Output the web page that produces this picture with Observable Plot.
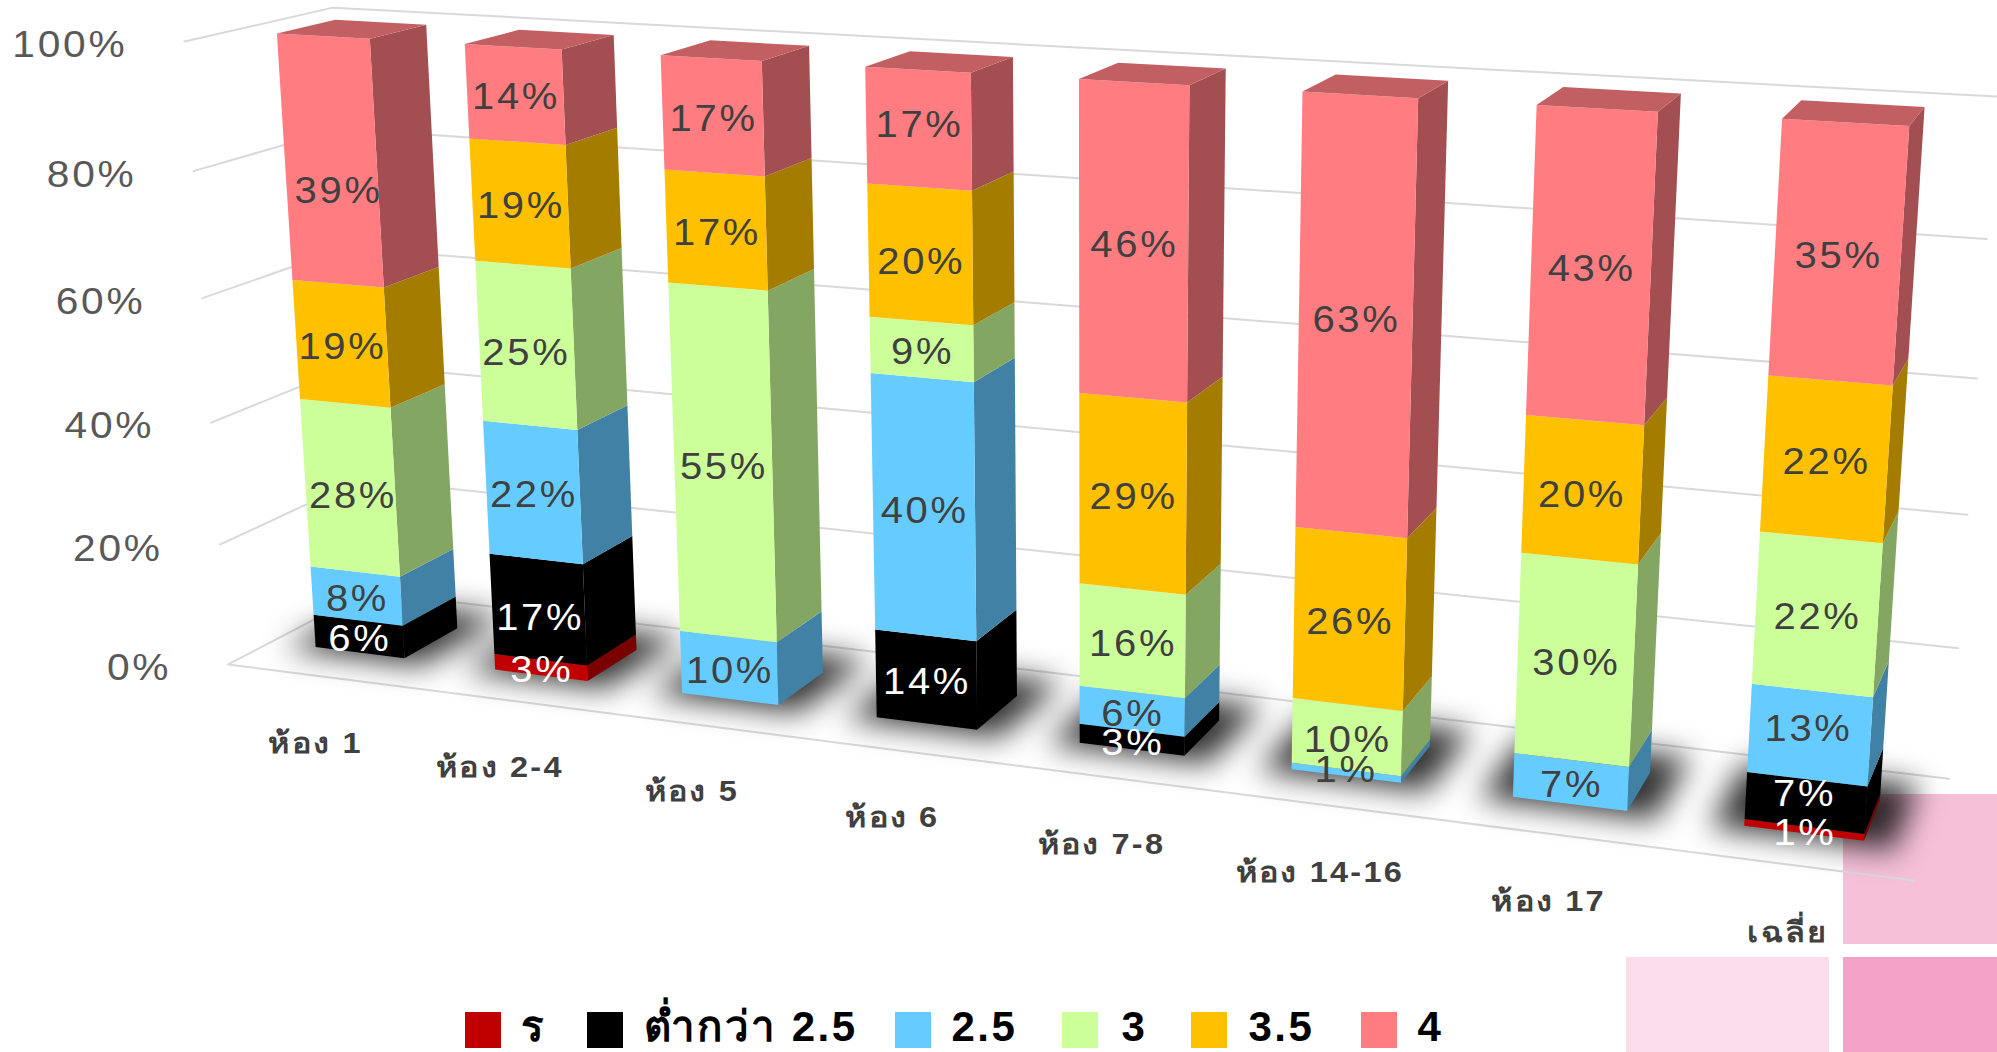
<!DOCTYPE html>
<html><head><meta charset="utf-8">
<script src="https://cdn.jsdelivr.net/npm/d3@7"></script>
<script src="https://cdn.jsdelivr.net/npm/@observablehq/plot@0.6"></script>
<style>
html,body{margin:0;padding:0;background:#fff}
svg{display:block}
.lbl text,.tick text{letter-spacing:2.5px}
.room text{letter-spacing:2px}
.leg text{letter-spacing:2.5px}
</style></head><body><div id="c"></div>
<script>
// ---- data ----
const rooms = ["ห้อง 1","ห้อง 2-4","ห้อง 5","ห้อง 6","ห้อง 7-8","ห้อง 14-16","ห้อง 17","เฉลี่ย"];
const seriesNames = ["ร","ต่ำกว่า 2.5","2.5","3","3.5","4"];
const gradeR     = [0,   2.6, 0,    0,    0, 0, 0,     1];
const gradeBelow = [5.5,16.6, 0,   14.1,  3, 0, 0,     7];
const grade25    = [8.2,21.6,10.2, 40.1,  6, 1, 6.65, 13];
const grade3     = [27.9,25.4,55.3, 8.6, 16,10,29.9,  22];
const grade35    = [19.4,19,  17.3,20,   29,26,20,    22];
const grade4     = [39, 14.4,17.2, 17.2, 46,63,43.45, 35];
const allSeries = [gradeR,gradeBelow,grade25,grade3,grade35,grade4];
const ticks = [0,20,40,60,80,100];
// ---- styling ----
const front = ["#C00000","#000000","#66CCFF","#CCFF99","#FFC000","#FF7C80"];
const side  = ["#7B0000","#000000","#4181A6","#83A663","#A47C00","#A34F52"];
const top_  = ["#900000","#111111","#4F9DC4","#9DC476","#C49400","#C25F62"];
const labelInk = ["#fff","#fff","#404040","#404040","#404040","#404040"];
// hand placement of data labels, "room-series": [dx, dy] in pixels
const labelNudge = {"0-5":[8,30],"0-3":[3,8],"1-3":[0,8],"1-1":[2,9],"3-5":[1,-4],"3-4":[1,8],"6-4":[0,5],
  "7-2":[-1,-6],"7-1":[-1,-9],"5-2":[0,-3]};
// ---- camera calibration: [category, share, depth, px, py] ----
const calib = [
[0,0,0,229,665],[0,.2,0,218,546],[0,.4,0,210,420],[0,.6,0,202,298],[0,.8,0,192,171],[0,1,0,184,42],
[0,0,1,366,592],[0,.8,1,340,129],[0,1,1,333,7],[8,0,0,1913,881],
[8,0,1,1949,779],[8,.2,1,1958,648],[8,.4,1,1965,516],[8,.6,1,1974,378],[8,.8,1,1987,239],[8,1,1,1999,93],
[.25,1,.3,277,33],[.75,1,.3,369,38],[.75,1,.7,426,24],[.25,1,.7,335,19],[.25,0,.3,315,647],[.75,0,.3,404,658],[.75,0,.7,457,628],
[1.25,1,.3,464,44],[1.75,1,.3,561,49],[1.75,1,.7,613,34],[1.25,1,.7,518,29],[1.25,0,.3,495,670],[1.75,0,.3,587,681],[1.75,0,.7,636,648],
[4.25,1,.3,1079,79],[4.75,1,.3,1190,85],[4.75,1,.7,1225,69],
[3.25,0,.3,876,708],[3.75,0,.3,978,730],[3.75,0,.7,1016,697],
[7.25,1,.3,1782,118],[7.75,1,.3,1907,126],[7.75,1,.7,1923,107],[7.25,1,.7,1801,99],[7.25,0,.3,1745,826],[7.75,0,.3,1864,840],[7.75,0,.7,1879,800]
];
function solveCamera(pts){
  const n=11, A=Array.from({length:n},()=>new Array(n+1).fill(0));
  const add=(r,b)=>{for(let i=0;i<n;i++){for(let j=0;j<n;j++)A[i][j]+=r[i]*r[j];A[i][n]+=r[i]*b;}};
  for(const [X,Y,Z,u0,v0] of pts){
    const u=u0/1000,v=v0/1000;
    add([X,Y,Z,1,0,0,0,0,-u*X,-u*Y,-u*Z],u);
    add([0,0,0,0,X,Y,Z,1,-v*X,-v*Y,-v*Z],v);
  }
  for(let c=0;c<n;c++){
    let m=c;for(let r=c+1;r<n;r++)if(Math.abs(A[r][c])>Math.abs(A[m][c]))m=r;
    [A[c],A[m]]=[A[m],A[c]];
    for(let r=0;r<n;r++){if(r===c)continue;const f=A[r][c]/A[c][c];for(let k=c;k<=n;k++)A[r][k]-=f*A[c][k];}
  }
  return A.map((row,i)=>row[n]/row[i]);
}
const P = solveCamera(calib);
function proj(X,Y,Z){
  const w=P[8]*X+P[9]*Y+P[10]*Z+1;
  return [1000*(P[0]*X+P[1]*Y+P[2]*Z+P[3])/w, 1000*(P[4]*X+P[5]*Y+P[6]*Z+P[7])/w];
}
const bx0=.25,bx1=.75,bz0=.3,bz1=.7;
// ---- geometry built from the data ----
const faces=[],texts=[],shadows=[],grid=[];
function poly(list,id,color,corners){for(const c of corners){const [x,y]=proj(...c);list.push({id,color,x,y});}}
rooms.forEach((room,i)=>{
  const x0=i+bx0,x1=i+bx1;
  poly(shadows,"s"+i,"#000",[[x0-.13,0,bz0-.05],[x1+.13,0,bz0-.05],[x1+.13,0,bz1+.2],[x0-.13,0,bz1+.2]]);
  const total=d3.sum(allSeries,s=>s[i]);
  let acc=0, last=-1;
  allSeries.forEach((s,k)=>{if(s[i])last=k;});
  allSeries.forEach((s,k)=>{
    const v=s[i]; if(!v) return;
    const a=acc/total,b=(acc+v)/total; acc+=v;
    poly(faces,`${i}-${k}-side`,side[k],[[x1,a,bz0],[x1,a,bz1],[x1,b,bz1],[x1,b,bz0]]);
    poly(faces,`${i}-${k}-front`,front[k],[[x0,a,bz0],[x1,a,bz0],[x1,b,bz0],[x0,b,bz0]]);
    if(k===last) poly(faces,`${i}-${k}-top`,top_[k],[[x0,1,bz0],[x1,1,bz0],[x1,1,bz1],[x0,1,bz1]]);
    const [tx,ty]=proj(i+.5,(a+b)/2,bz0);
    const [ndx,ndy]=labelNudge[`${i}-${k}`]||[1,3];
    texts.push({x:tx+ndx,y:ty+ndy,t:Math.round(v)+"%",ink:labelInk[k]});
  });
});
ticks.forEach(t=>{
  const Y=t/100;
  const pts=[[0,Y,0],[0,Y,1],[8,Y,1]];
  if(t===0) pts.unshift([8,0,0],[0,0,0]);
  pts.forEach(c=>{const [x,y]=proj(...c);grid.push({id:t,x,y});});
});
const tickLabels=ticks.map(t=>{const [x,y]=proj(0,t/100,0);return{x,y,t:t+"%"};});
const roomLabels=rooms.map((r,i)=>{const [x,y]=proj(i+.5,0,0);return{x,y,t:r};});
// ---- decoration and legend layout ----
const decor=[{x1:1843,x2:1997,y1:794,y2:944,f:"#F5C0D8"},{x1:1626,x2:1829,y1:957,y2:1052,f:"#FADCEA"},{x1:1843,x2:1997,y1:957,y2:1052,f:"#F2A3C7"}];
const legendX=[465,587,895,1062,1191,1361], legendTextX=[520,643,951,1121,1248,1417];
const legend=seriesNames.map((n,k)=>({n,x1:legendX[k],x2:legendX[k]+36,y1:1012,y2:1048,tx:legendTextX[k],ty:1027,f:front[k]}));
const fam='"Liberation Sans","Noto Sans",sans-serif';
const chart=Plot.plot({
  width:1997,height:1052,margin:0,
  x:{domain:[0,1997],range:[0,1997],axis:null},
  y:{domain:[0,1052],range:[0,1052],axis:null},
  style:{background:"#fff"},
  marks:[
    Plot.rect(decor,{x1:"x1",x2:"x2",y1:"y1",y2:"y2",fill:"f"}),
    Plot.line(grid,{x:"x",y:"y",z:"id",stroke:"#D9D9D9",strokeWidth:2}),
    Plot.line(shadows,{x:"x",y:"y",z:"id",fill:"#000",fillOpacity:.8,imageFilter:"blur(15px)"}),
    Plot.line(faces,{x:"x",y:"y",z:"id",fill:"color"}),
    Plot.text(texts,{x:"x",y:"y",text:"t",fill:"ink",fontSize:37,fontFamily:fam,className:"lbl"}),
    Plot.text(tickLabels,{x:"x",y:"y",text:"t",dx:-57,dy:4,textAnchor:"end",fill:"#595959",fontSize:37,fontFamily:fam,className:"tick"}),
    Plot.text(roomLabels,{x:"x",y:"y",text:"t",dx:-2,dy:68,fill:"#404040",fontSize:29,fontWeight:"bold",fontFamily:fam,className:"room"}),
    Plot.rect(legend,{x1:"x1",x2:"x2",y1:"y1",y2:"y2",fill:"f"}),
    Plot.text(legend,{x:"tx",y:"ty",text:"n",textAnchor:"start",fill:"#000",fontSize:42,fontWeight:"bold",fontFamily:fam,className:"leg"})
  ]
});
// the reference's lettering is stretched sideways
const stretch=(sel,k)=>chart.querySelectorAll(sel).forEach(t=>t.setAttribute("transform",(t.getAttribute("transform")||"")+` scale(${k},1)`));
stretch(".lbl text",1.08);
stretch(".tick text",1.1);
stretch(".room text",1.12);
document.getElementById("c").appendChild(chart);
</script></body></html>
